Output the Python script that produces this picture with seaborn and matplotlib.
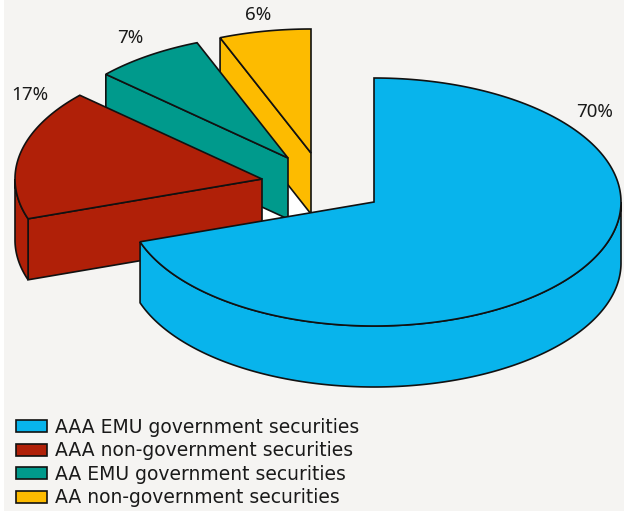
import matplotlib

matplotlib.use("Agg")
import matplotlib.pyplot as plt
import numpy as np
import seaborn as sns
from matplotlib.patches import Patch, Polygon

labels = [
    "AAA EMU government securities",
    "AAA non-government securities",
    "AA EMU government securities",
    "AA non-government securities",
]
# the labels on the chart are rounded, the wedge sizes read slightly finer
shares = [69.8, 17, 7.2, 6]
colors = ["#08b4ec", "#b02008", "#009a8c", "#fdbb00"]

# apex of each pulled out slice, in pixels of the 624x511 picture
apexes = [(374, 202), (262, 179), (288, 158), (311, 153)]
label_pos = [(595, 112), (30, 95), (130, 38), (258, 15)]
RX, RY, DEPTH = 247, 124, 61
EDGE = "#111111"
PANEL = "#f5f4f2"


def rim(apex, start, end):
    # points on the ellipse, angles in degrees clockwise from 12 o'clock
    t = np.radians(np.linspace(start, end, 200))
    return np.column_stack([apex[0] + RX * np.sin(t), apex[1] - RY * np.cos(t)])


def draw_slice(ax, apex, start, end, color, z):
    down = np.array([0, DEPTH])
    a = np.array(apex, dtype=float)
    arc = rim(apex, start, end)
    style = dict(fc=color, ec=EDGE, lw=1.2, zorder=z)

    # radial cut faces, only the ones turned towards the viewer
    if start >= 180:
        face = np.array([arc[0], a, a + down, arc[0] + down])
        ax.add_patch(Polygon(face, **style))
    if end <= 180:
        face = np.array([arc[-1], a, a + down, arc[-1] + down])
        ax.add_patch(Polygon(face, **style))

    # outer wall only where the rim faces the viewer (90..270 deg)
    lo, hi = max(start, 90), min(end, 270)
    if lo < hi:
        wall = rim(apex, lo, hi)
        poly = np.vstack([wall, (wall + down)[::-1]])
        ax.add_patch(Polygon(poly, **style))

    ax.add_patch(Polygon(np.vstack([a, arc]), **style))


sns.set_theme(style="white")
plt.rcParams["font.family"] = ["DejaVu Sans"]

fig = plt.figure(figsize=(6.24, 5.11), dpi=100, facecolor="white")
ax = fig.add_axes([0, 0, 1, 1])
ax.set_xlim(0, 624)
ax.set_ylim(511, 0)
ax.axis("off")
ax.add_patch(plt.Rectangle((4, 0), 620, 511, fc=PANEL, ec="none", zorder=0))

# clockwise from the top, slices start where the previous one stops
stops = np.cumsum([0] + shares) * 3.6

# white gap that shows between the slices and the big one
gap = np.array([
    apexes[1],
    apexes[3],
    (apexes[3][0], apexes[3][1] + DEPTH + 12),
    (apexes[1][0], apexes[1][1] + DEPTH + 20),
])
ax.add_patch(Polygon(gap, fc="white", ec="none", zorder=1))

for i in [3, 2, 1, 0]:
    draw_slice(ax, apexes[i], stops[i], stops[i + 1], colors[i], 10 - i)

for share, (x, y) in zip(shares, label_pos):
    ax.text(
        x, y, f"{share:.0f}%", ha="center", va="center", fontsize=13.5,
        family="Noto Sans", color="#1a1a1a", zorder=20,
    )

handles = [Patch(fc=c, ec=EDGE, lw=1.2, label=l) for c, l in zip(colors, labels)]
ax.legend(
    handles=handles,
    loc="lower left",
    bbox_to_anchor=(12 / 624, 0.0),
    borderaxespad=0,
    borderpad=0.2,
    frameon=False,
    fontsize=13.5,
    labelspacing=0.24,
    handlelength=1.65,
    handleheight=0.6,
    handletextpad=0.42,
    labelcolor="#1a1a1a",
)

fig.savefig("out.png", dpi=100)
